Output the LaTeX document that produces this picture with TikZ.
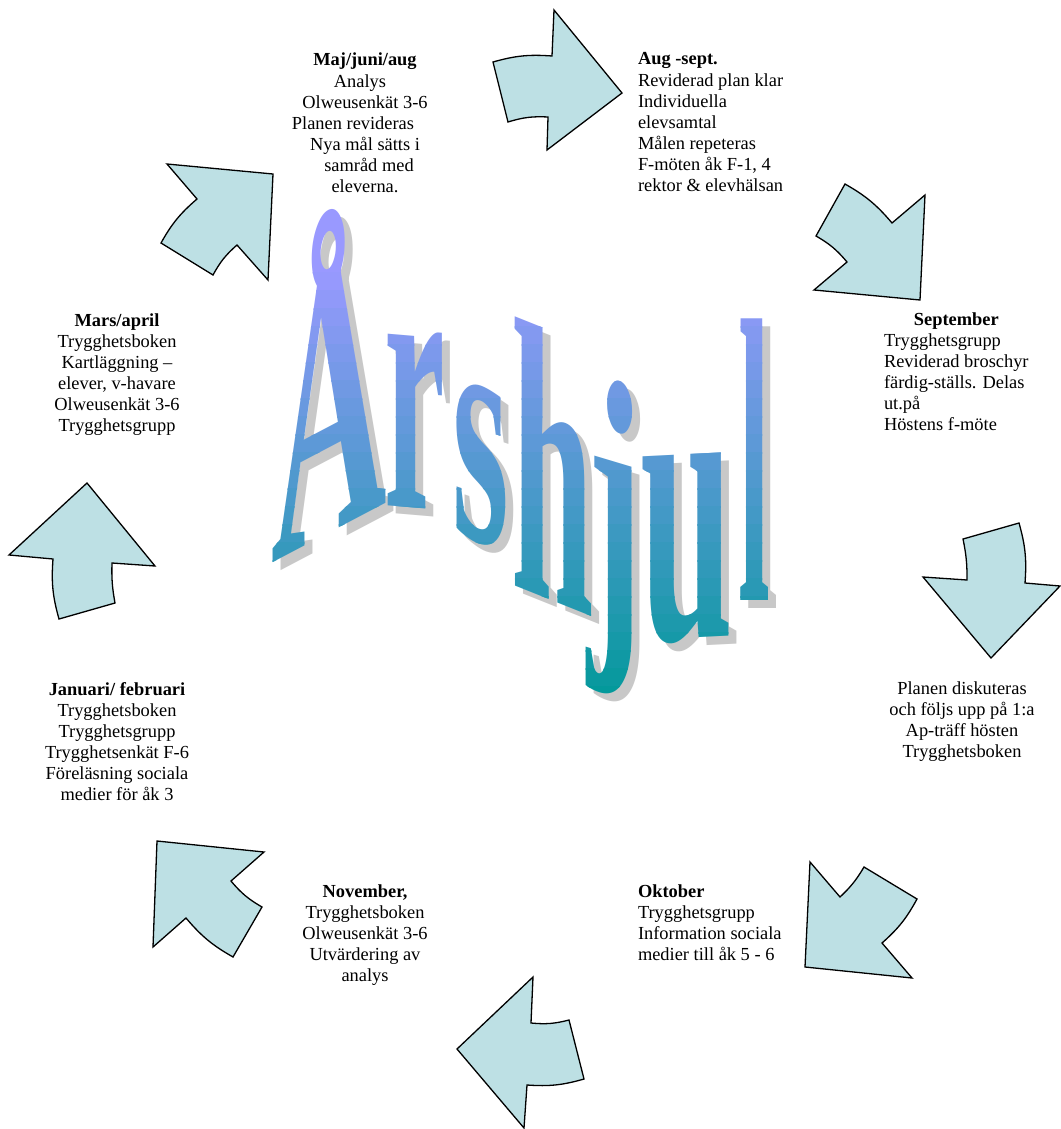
\documentclass[tikz,border=0pt]{standalone}
\usepackage{fontspec}
\setmainfont{Liberation Serif}
\newfontfamily\wafontfam{Liberation Serif}
\newcommand\wafont{\wafontfam\bfseries\fontsize{100}{100}\selectfont}
\definecolor{arrowfill}{RGB}{189,224,228}
\definecolor{wtop}{RGB}{153,153,255}
\definecolor{wbot}{RGB}{0,153,153}
\definecolor{wshadow}{RGB}{200,200,200}
\def\waDX{0}\def\waDY{0}\def\wacolor{wshadow}\def\waYA{0}\def\waYB{2000}
% sx, k*sx, sy, X, Y(image), glyph, ymin, ymax (image)
\newcommand\waglyph[8]{%
  \ifdim #7pt<\waYB pt\relax\ifdim #8pt>\waYA pt\relax
  \begin{pgfscope}%
  \pgflowlevel{\pgftransformcm{#1}{#2}{0}{#3}{\pgfpoint{#4pt+\waDX pt}{-#5pt-\waDY pt}}}%
  \pgftext[left,base]{\color{\wacolor}\wafont #6}%
  \end{pgfscope}%
  \fi\fi}
\newcommand\walettters{%
  \waglyph{1.6}{0.842}{3.9}{271}{563}{Å}{195}{575}%
  \waglyph{1.37}{-0.116}{3.74}{384}{505}{r}{325}{515}%
  \waglyph{1.46}{-0.511}{3.3}{452}{531}{s}{378}{556}%
  \waglyph{1.48}{-0.592}{3.88}{511}{584}{h}{312}{625}%
  \waglyph{1.67}{-0.501}{3.5}{587.5}{614}{j}{370}{705}%
  \waglyph{1.67}{0.0835}{4.0}{640.5}{640}{u}{445}{650}%
  \waglyph{1.15}{0}{4.06}{738}{600}{l}{315}{605}}
\tikzset{
  arr/.style={draw=black, line width=1.3pt, fill=arrowfill, line join=miter},
  lbl/.style={inner sep=0pt, outer sep=0pt, font=\fontsize{18.4}{21.1}\selectfont},
}
\begin{document}
\begin{tikzpicture}[x=1pt,y=-1pt]
\useasboundingbox (0,0) rectangle (1060,1129);
\fill[white] (0,0) rectangle (1060,1129);

% arrows
\draw[arr] (493,62) to[bend left=10] (552,56) -- (554,10) -- (622,93) -- (547,150) -- (548,117) to[bend right=10] (508,122) -- cycle;
\draw[arr] (845,184) to[bend left=10] (892,223) -- (925,195) -- (920,300) -- (814,290) -- (847,262) to[bend right=10] (816,236) -- cycle;
\draw[arr] (967,580) to[bend right=6] (963,539) -- (1019,523) to[bend left=10] (1025,583) -- (1060,586) -- (991,658) -- (923,577) -- cycle;
\draw[arr] (810,862) -- (840,897) to[bend right=8] (864,867) -- (917,899) to[bend left=10] (882,943) -- (912,978) -- (805,967) -- cycle;
\draw[arr] (457,1049) -- (533,977) -- (531,1023) to[bend right=10] (569,1020) -- (584,1079) to[bend left=10] (527,1085) -- (524,1128) -- cycle;
\draw[arr] (157,841) -- (264,852) -- (231,881) to[bend right=10] (262,907) -- (233,957) to[bend left=10] (186,918) -- (153,947) -- cycle;
\draw[arr] (87,483) -- (155,566) -- (112,563) to[bend right=6] (115,603) -- (59,619) to[bend left=10] (53,559) -- (9,555) -- cycle;
\draw[arr] (167,164) -- (273,174) -- (268,280) -- (237,245) to[bend right=10] (213,275) -- (161,243) to[bend left=10] (197,199) -- cycle;

% word art: shadow
\def\waDX{8}\def\waDY{8}\def\wacolor{wshadow}
\walettters
\def\waDX{0}\def\waDY{0}
% word art: vertical gradient, drawn band by band
\def\wacolor{wtop}\def\waYA{185}\def\waYB{273}
\begin{scope}
  \clip (240,185) rectangle (820,273);
  \walettters
\end{scope}
\foreach \i in {0,...,23}{
  \pgfmathsetmacro\waYA{272+\i*18.0417}
  \pgfmathsetmacro\waYB{\waYA+19}
  \pgfmathsetmacro\pct{100*(1-(\i+0.5)/24)}
  \colorlet{bandc}{wtop!\pct!wbot}
  \def\wacolor{bandc}
  \begin{scope}
    \clip (240,\waYA) rectangle (820,\waYB);
    \walettters
  \end{scope}
}
\def\wacolor{wbot}\def\waYA{704}\def\waYB{725}
\begin{scope}
  \clip (240,704) rectangle (820,725);
  \walettters
\end{scope}

% labels
\node[lbl, anchor=base] (maj) at (365,66) {\begin{tabular}[t]{@{}c@{}}
\textbf{Maj/juni/aug}\\ Analys\hspace*{10pt}\\ Olweusenkät 3-6\\ Planen revideras\hspace*{24pt}\\ Nya mål sätts i\\ \hspace*{8pt}samråd med\\ eleverna.\end{tabular}};
\node[lbl, anchor=base west] (aug) at (638,65) {\begin{tabular}[t]{@{}l@{}}
\textbf{Aug -sept.}\\ Reviderad plan klar\\ Individuella\\ elevsamtal\\ Målen repeteras\\ F-möten åk F-1, 4\\ rektor \& elevhälsan\end{tabular}};
\node[lbl, anchor=base west] (sep) at (884,325) {\begin{tabular}[t]{@{}l@{}}
\multicolumn{1}{@{}c@{}}{\textbf{September}}\\ Trygghetsgrupp\\ Reviderad broschyr\\ färdig-ställs. Delas\\ ut.på\\ Höstens f-möte\end{tabular}};
\node[lbl, anchor=base] (mar) at (117,326) {\begin{tabular}[t]{@{}c@{}}
\textbf{Mars/april}\\ Trygghetsboken\\ Kartläggning –\\ elever, v-havare\\ Olweusenkät 3-6\\ Trygghetsgrupp\end{tabular}};
\node[lbl, anchor=base] (plan) at (962,694) {\begin{tabular}[t]{@{}c@{}}
Planen diskuteras\\ och följs upp på 1:a\\ Ap-träff hösten\\ Trygghetsboken\end{tabular}};
\node[lbl, anchor=base] (jan) at (117,695) {\begin{tabular}[t]{@{}c@{}}
\textbf{Januari/ februari}\\ Trygghetsboken\\ Trygghetsgrupp\\ Trygghetsenkät F-6\\ Föreläsning sociala\\ medier för åk 3\end{tabular}};
\node[lbl, anchor=base west] (okt) at (638,897) {\begin{tabular}[t]{@{}l@{}}
\textbf{Oktober}\\ Trygghetsgrupp\\ Information sociala\\ medier till åk 5 - 6\end{tabular}};
\node[lbl, anchor=base] (nov) at (365,897) {\begin{tabular}[t]{@{}c@{}}
\textbf{November,}\\ Trygghetsboken\\ Olweusenkät 3-6\\ Utvärdering av\\ analys\end{tabular}};
\end{tikzpicture}
\end{document}
